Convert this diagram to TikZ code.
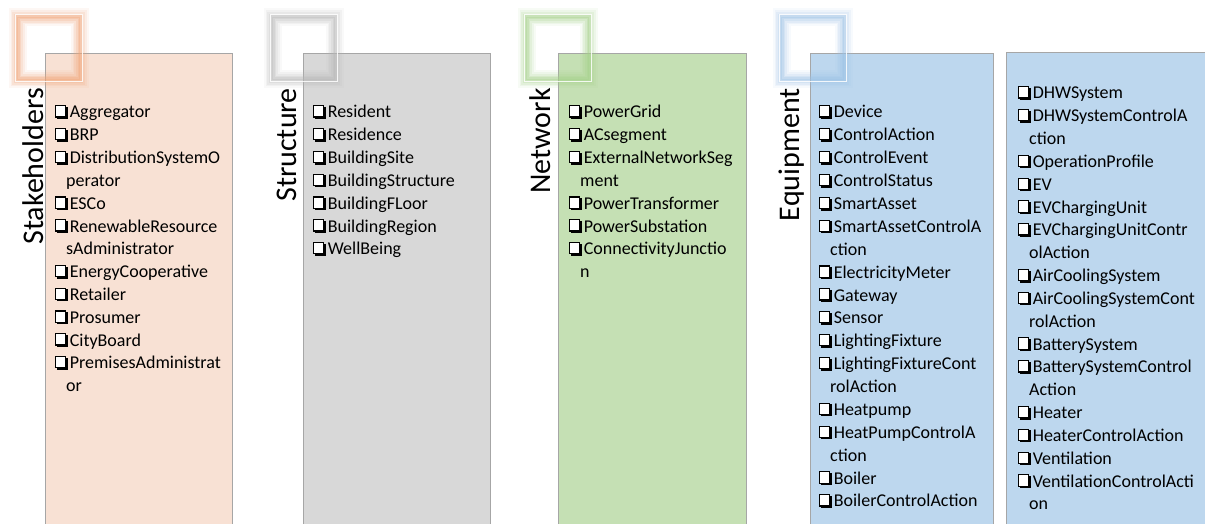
\documentclass[tikz,border=0pt]{standalone}
\usepackage{fontspec}
\setmainfont{Carlito}
% shadowed check box bullet and hanging indent for wrapped lines
\newcommand\chkbox{\tikz[baseline=0pt,x=1pt,y=1pt]{%
  \fill[black] (1.6,-1.0) rectangle (12.4,11.0);
  \fill[white] (0.6,1.2) rectangle (10.3,12.0);
  \draw[black, line width=1.1pt] (0.55,1.0) rectangle (10.4,12.2);}\hspace{2.2pt}}
\newcommand\contline{\hspace*{11pt}}
\definecolor{peach}{HTML}{F8E1D4}
\definecolor{panelgray}{HTML}{D8D8D8}
\definecolor{panelgreen}{HTML}{C5E0B4}
\definecolor{panelblue}{HTML}{BDD7EE}
\definecolor{gloworange}{HTML}{F2A577}
\definecolor{glowgray}{HTML}{B8B8B8}
\definecolor{glowgreen}{HTML}{A5D189}
\definecolor{glowblue}{HTML}{9DC3E6}
\begin{document}
\begin{tikzpicture}[x=1pt,y=-1pt,
  panel/.style={draw=black!35, line width=0.8pt},
  item/.style={anchor=base west, inner sep=0pt, text=black,
    font=\fontsize{18}{22}\selectfont},
  heading/.style={rotate=90, anchor=base east, inner sep=0pt,
    font=\fontsize{30}{36}\selectfont}]

\useasboundingbox (0,0) rectangle (1205,524);
\fill[white] (0,0) rectangle (1205,524);

% column panels
\draw[panel, fill=peach]       (45,53)   rectangle (232,540);
\draw[panel, fill=panelgray]   (303,53)  rectangle (490,540);
\draw[panel, fill=panelgreen]  (558,53)  rectangle (746,540);
\draw[panel, fill=panelblue]   (810,53)  rectangle (993,540);
\draw[panel, fill=panelblue]   (1006,52) rectangle (1215,540);

% glowing corner squares
\foreach \sx/\col in {15/gloworange, 270/glowgray, 524/glowgreen, 779/glowblue}{
  \foreach \w/\o in {18/0.08, 14/0.11, 10.5/0.15, 7/0.2, 4/0.26, 1.8/0.3}{
    \draw[\col, line width=\w pt, opacity=\o] (\sx+2.5,17.5) rectangle (\sx+64.5,79.5);
  }
  \draw[white, line width=1pt, opacity=0.85] (\sx,15) rectangle (\sx+67,82);
}

% rotated headings
\node[heading] (hstake) at (43,88)  {Stakeholders};
\node[heading] (hstruc) at (296,88) {Structure};
\node[heading] (hnet)   at (550,88) {Network};
\node[heading] (hequip) at (799,88) {Equipment};

% Stakeholders
\foreach \t [count=\i from 0] in {\chkbox Aggregator, \chkbox BRP,
  \chkbox DistributionSystemO, \contline perator, \chkbox ESCo,
  \chkbox RenewableResource, \contline sAdministrator,
  \chkbox EnergyCooperative, \chkbox Retailer, \chkbox Prosumer,
  \chkbox CityBoard, \chkbox PremisesAdministrat, \contline or}
  \node[item] (stake\i) at (55,{118+\i*22.8}) {\t};

% Structure
\foreach \t [count=\i from 0] in {\chkbox Resident, \chkbox Residence,
  \chkbox BuildingSite, \chkbox BuildingStructure, \chkbox BuildingFLoor,
  \chkbox BuildingRegion, \chkbox WellBeing}
  \node[item] (struc\i) at (313,{118+\i*22.8}) {\t};

% Network
\foreach \t [count=\i from 0] in {\chkbox PowerGrid, \chkbox ACsegment,
  \chkbox ExternalNetworkSeg, \contline ment, \chkbox PowerTransformer,
  \chkbox PowerSubstation, \chkbox ConnectivityJunctio, \contline n}
  \node[item] (net\i) at (569,{118+\i*22.8}) {\t};

% Equipment, first panel
\foreach \t [count=\i from 0] in {\chkbox Device, \chkbox ControlAction,
  \chkbox ControlEvent, \chkbox ControlStatus, \chkbox SmartAsset,
  \chkbox SmartAssetControlA, \contline ction, \chkbox ElectricityMeter,
  \chkbox Gateway, \chkbox Sensor, \chkbox LightingFixture,
  \chkbox LightingFixtureCont, \contline rolAction, \chkbox Heatpump,
  \chkbox HeatPumpControlA, \contline ction, \chkbox Boiler,
  \chkbox BoilerControlAction}
  \node[item] (eqa\i) at (819,{118+\i*22.88}) {\t};

% Equipment, second panel
\foreach \t [count=\i from 0] in {\chkbox DHWSystem,
  \chkbox DHWSystemControlA, \contline ction, \chkbox OperationProfile,
  \chkbox EV, \chkbox EVChargingUnit, \chkbox EVChargingUnitContr,
  \contline olAction, \chkbox AirCoolingSystem,
  \chkbox AirCoolingSystemCont, \contline rolAction, \chkbox BatterySystem,
  \chkbox BatterySystemControl, \contline Action, \chkbox Heater,
  \chkbox HeaterControlAction, \chkbox Ventilation,
  \chkbox VentilationControlActi, \contline on}
  \node[item] (eqb\i) at (1018,{99+\i*22.83}) {\t};
\end{tikzpicture}
\end{document}
